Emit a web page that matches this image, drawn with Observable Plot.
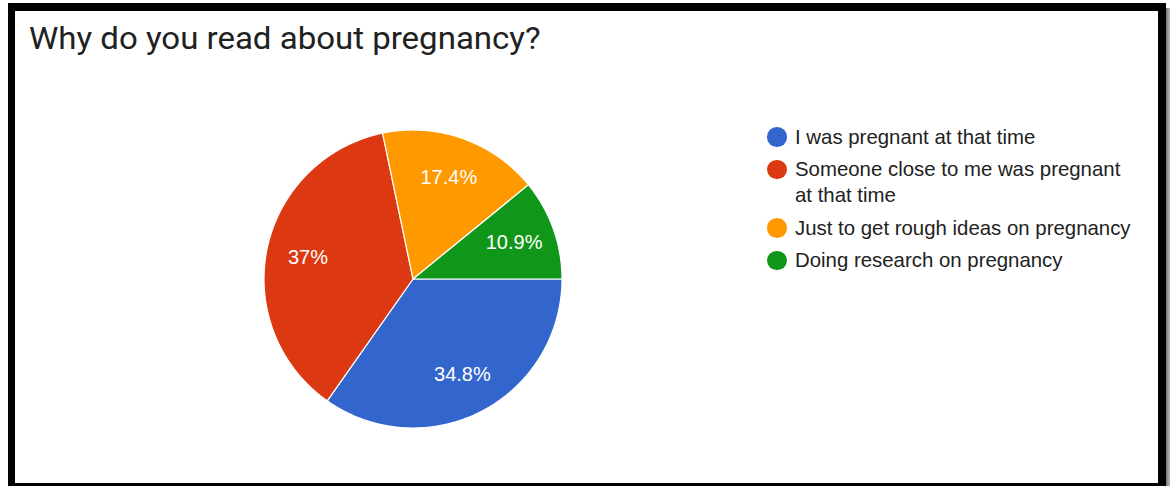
<!DOCTYPE html>
<html>
<head>
<meta charset="utf-8">
<script src="https://cdn.jsdelivr.net/npm/d3@7"></script>
<script src="https://cdn.jsdelivr.net/npm/@observablehq/plot@0.6"></script>
<style>
  html, body { margin: 0; padding: 0; background: #fff; }
  #page { position: relative; width: 1170px; height: 486px; overflow: hidden; background: #fff; }
  #outer { position: absolute; left: 8px; top: 3px; width: 1158px; height: 490px; background: #000; }
  #shadow { position: absolute; left: 1166px; top: 8px; width: 4px; height: 480px; background: linear-gradient(to right, #777, #bbb); }
  #inner { position: absolute; left: 15px; top: 11px; width: 1143px; height: 472px; background: #fff; }
  #title { position: absolute; left: 29px; top: 22.5px; font-family: Roboto, sans-serif; font-size: 31px; line-height: 31px; color: #212121; white-space: nowrap; transform: scaleX(1.065); transform-origin: left top; }
  #chart { position: absolute; left: 0; top: 0; }
  #legend { position: absolute; left: 767px; top: 123.6px; font-family: "Liberation Sans", Arial, sans-serif; font-size: 20.4px; line-height: 26px; color: #222; }
  .item { display: flex; align-items: flex-start; margin-bottom: 6.5px; }
  .sw { width: 19.5px; height: 19.5px; border-radius: 50%; margin-top: 3.5px; margin-right: 8.5px; flex: none; }
  .lab { width: 340px; }
</style>
</head>
<body>
<div id="page">
  <div id="outer"></div>
  <div id="shadow"></div>
  <div id="inner"></div>
  <div id="title"></div>
  <div id="chart"></div>
  <div id="legend"></div>
</div>
<script>
const title = "Why do you read about pregnancy?";
const categories = [
  "I was pregnant at that time",
  "Someone close to me was pregnant at that time",
  "Just to get rough ideas on pregnancy",
  "Doing research on pregnancy"
];
const values = [34.8, 37, 17.4, 10.9];
const valueLabels = ["34.8%", "37%", "17.4%", "10.9%"];
const colors = ["#3366cc", "#dc3912", "#ff9900", "#109618"];

document.getElementById("title").textContent = title;

// pie geometry from the values
const arcs = d3.pie().sort(null).value(d => d)
  .startAngle(Math.PI / 2).endAngle(Math.PI / 2 + 2 * Math.PI)(values);

const slicePoints = [];
arcs.forEach((a, i) => {
  const cat = categories[i];
  slicePoints.push({cat, x: 0, y: 0});
  const n = Math.max(2, Math.ceil((a.endAngle - a.startAngle) / (Math.PI / 360)));
  for (let k = 0; k <= n; k++) {
    const t = a.startAngle + (a.endAngle - a.startAngle) * k / n;
    slicePoints.push({cat, x: Math.sin(t), y: Math.cos(t)});
  }
  slicePoints.push({cat, x: 0, y: 0});
});

const labelPoints = arcs.map((a, i) => {
  const m = (a.startAngle + a.endAngle) / 2;
  return {label: valueLabels[i], x: 0.72 * Math.sin(m), y: 0.72 * Math.cos(m)};
});

const cx = 412.5, cy = 278.5, r = 149;

const plot = Plot.plot({
  width: 1170,
  height: 486,
  margin: 0,
  style: {background: "transparent", overflow: "visible"},
  x: {domain: [-1, 1], range: [cx - r, cx + r], axis: null},
  y: {domain: [-1, 1], range: [cy + r, cy - r], axis: null},
  color: {domain: categories, range: colors},
  marks: [
    Plot.line(slicePoints, {x: "x", y: "y", z: "cat", fill: "cat", stroke: "#fff", strokeWidth: 1.2, strokeLinejoin: "round"}),
    Plot.text(labelPoints, {x: "x", y: "y", text: "label", fill: "#fff", fontSize: 20, fontFamily: "Liberation Sans, Arial, sans-serif"})
  ]
});
document.getElementById("chart").appendChild(plot);

// legend
const legend = document.getElementById("legend");
categories.forEach((c, i) => {
  const item = document.createElement("div");
  item.className = "item";
  const sw = document.createElement("div");
  sw.className = "sw";
  sw.style.background = colors[i];
  const lab = document.createElement("div");
  lab.className = "lab";
  lab.textContent = c;
  item.appendChild(sw);
  item.appendChild(lab);
  legend.appendChild(item);
});
</script>
</body>
</html>
